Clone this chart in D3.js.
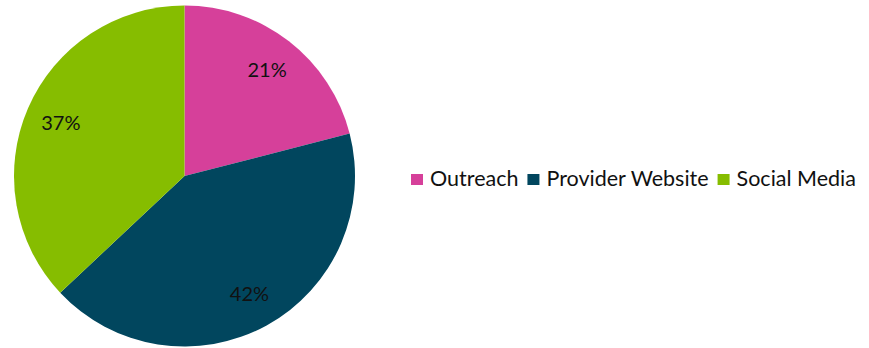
<!DOCTYPE html>
<html>
<head>
<meta charset="utf-8">
<script src="https://cdn.jsdelivr.net/npm/d3@7"></script>
<style>
  html, body { margin: 0; padding: 0; background: #fff; }
  svg { display: block; }
  text { font-family: Lato, "Noto Sans", sans-serif; }
</style>
</head>
<body>
<svg id="chart" width="869" height="348"></svg>
<script>
// Share of referrals by channel
const categories = ["Outreach", "Provider Website", "Social Media"];
const shares = [21, 42, 37];
const colors = ["#D6409A", "#01465E", "#86BD00"];

const svg = d3.select("#chart");
const cx = 184.5, cy = 176, radius = 170.5;

const pie = d3.pie().sort(null).value(d => d.value);
const arcs = pie(categories.map((c, i) => ({ name: c, value: shares[i] })));

const arc = d3.arc().innerRadius(0).outerRadius(radius);
const labelArc = d3.arc().innerRadius(radius * 0.79).outerRadius(radius * 0.79);

const g = svg.append("g").attr("transform", `translate(${cx},${cy})`);

g.selectAll("path.slice")
  .data(arcs)
  .join("path")
  .attr("class", "slice")
  .attr("d", arc)
  .attr("fill", (d, i) => colors[i]);

g.selectAll("text.pct")
  .data(arcs)
  .join("text")
  .attr("class", "pct")
  .attr("transform", d => `translate(${labelArc.centroid(d)})`)
  .attr("text-anchor", "middle")
  .attr("dy", "0.36em")
  .attr("font-size", 20)
  .attr("fill", "#111")
  .text(d => d.data.value + "%");

// Legend, laid out horizontally from measured label widths
const legend = svg.append("g").attr("transform", "translate(411,179.5)");
let x = 0;
categories.forEach((c, i) => {
  const item = legend.append("g").attr("transform", `translate(${x},0)`);
  item.append("rect")
    .attr("x", 0).attr("y", -5.5)
    .attr("width", 12).attr("height", 11)
    .attr("fill", colors[i]);
  const t = item.append("text")
    .attr("x", 19).attr("y", 6)
    .attr("font-size", 21.5)
    .attr("fill", "#111")
    .text(c);
  x += 19 + t.node().getComputedTextLength() + 9;
});
</script>
</body>
</html>
